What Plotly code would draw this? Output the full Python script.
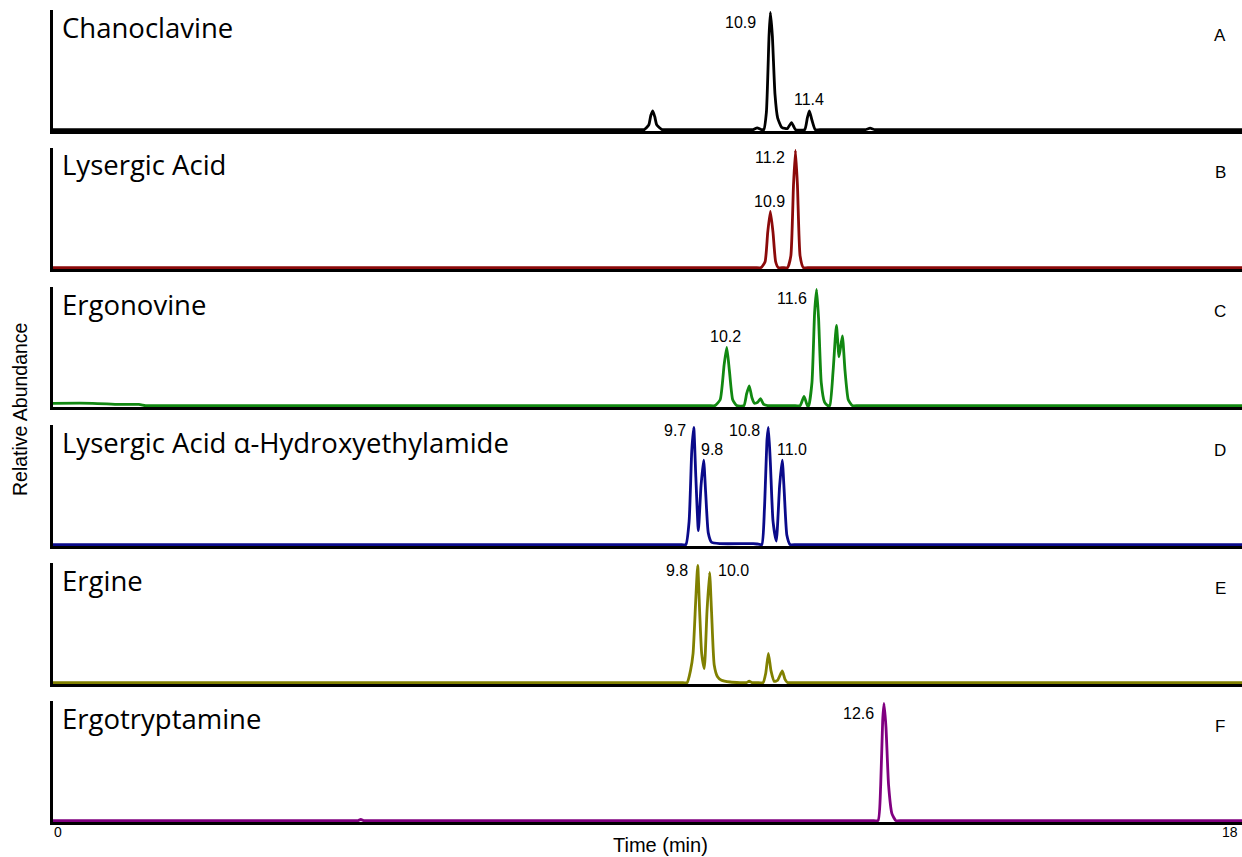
import plotly.graph_objects as go

W, H = 1242, 857

# Retention time window (min)
T_START, T_END = 0, 18

# Chromatogram vertices: retention time (min) and relative abundance
chano_t = [0, 8.85, 8.95, 9.02, 9.05, 9.08, 9.11, 9.14, 9.22, 9.32,
           10.5, 10.6, 10.66, 10.72, 10.76, 10.80, 10.84, 10.86, 10.89, 10.93,
           10.97, 11.03, 11.08, 11.12, 11.18, 11.24, 11.38, 11.42, 11.45, 11.49,
           11.54, 11.64, 12.2, 12.3, 12.37, 12.44, 12.54, 18]
chano_i = [0, 0, 0, 0.04, 0.12, 0.16, 0.11, 0.04, 0, 0,
           0, 0, 0.015, 0, 0, 0.15, 0.8, 1.0, 0.8, 0.3,
           0.1, 0.02, 0.01, 0.01, 0.06, 0, 0, 0.1, 0.16, 0.08,
           0, 0, 0, 0, 0.012, 0, 0, 0]

lys_t = [0, 10.62, 10.72, 10.78, 10.82, 10.86, 10.90, 10.94, 10.98, 11.05,
         11.12, 11.17, 11.21, 11.24, 11.27, 11.31, 11.36, 11.46, 18]
lys_i = [0, 0, 0, 0.05, 0.3, 0.48, 0.3, 0.05, 0, 0,
         0, 0.1, 0.7, 1.0, 0.7, 0.1, 0, 0, 0]

ergon_t = [0, 0.6, 1.0, 1.3, 1.4, 1.5, 9.92, 10.02, 10.10, 10.16,
           10.20, 10.24, 10.29, 10.35, 10.46, 10.50, 10.54, 10.58, 10.62, 10.67,
           10.71, 10.76, 10.82, 10.92, 11.21, 11.31, 11.37, 11.42, 11.44, 11.49,
           11.53, 11.56, 11.59, 11.63, 11.68, 11.73, 11.76, 11.81, 11.86, 11.90,
           11.95, 11.99, 12.04, 12.10, 12.2, 18]
ergon_i = [0.02, 0.02, 0.01, 0.01, 0, 0, 0, 0, 0.05, 0.35,
           0.5, 0.3, 0.05, 0, 0, 0.1, 0.17, 0.07, 0.02, 0.03,
           0.06, 0.01, 0, 0, 0, 0, 0.08, 0, 0, 0.2,
           0.8, 1.0, 0.75, 0.2, 0.03, 0, 0, 0.3, 0.69, 0.42,
           0.6, 0.3, 0.05, 0, 0, 0]

lah_t = [0, 9.48, 9.58, 9.63, 9.67, 9.70, 9.73, 9.77, 9.81, 9.85,
         9.88, 9.92, 9.97, 10.1, 10.6, 10.66, 10.73, 10.77, 10.81, 10.83,
         10.86, 10.90, 10.95, 11.00, 11.04, 11.07, 11.11, 11.16, 11.26, 18]
lah_i = [0, 0, 0, 0.2, 0.8, 1.0, 0.6, 0.12, 0.5, 0.72,
         0.45, 0.1, 0.02, 0.008, 0.008, 0.005, 0, 0.3, 0.9, 1.0,
         0.7, 0.2, 0.03, 0.5, 0.72, 0.45, 0.08, 0, 0, 0]

ergine_t = [0, 9.5, 9.60, 9.65, 9.69, 9.73, 9.76, 9.79, 9.82, 9.86,
            9.90, 9.94, 9.97, 10.01, 10.06, 10.12, 10.25, 10.4, 10.5, 10.54,
            10.58, 10.66, 10.75, 10.79, 10.83, 10.87, 10.92, 10.97, 11.04, 11.08,
            11.12, 11.22, 18]
ergine_i = [0, 0, 0, 0.1, 0.25, 0.7, 1.0, 0.6, 0.25, 0.12,
            0.6, 0.94, 0.6, 0.15, 0.05, 0.02, 0.005, 0, 0, 0.012,
            0, 0, 0, 0.08, 0.25, 0.1, 0.01, 0.02, 0.1, 0.03,
            0, 0, 0]

ergot_t = [0, 4.55, 4.62, 4.66, 4.70, 4.77, 12.39, 12.49, 12.53, 12.56,
           12.58, 12.61, 12.65, 12.70, 12.76, 12.86, 18]
ergot_i = [0, 0, 0, 0.01, 0, 0, 0, 0, 0.3, 0.85,
           1.0, 0.8, 0.3, 0.06, 0, 0, 0]

names = ["Chanoclavine", "Lysergic Acid", "Ergonovine",
         "Lysergic Acid \u03b1-Hydroxyethylamide", "Ergine", "Ergotryptamine"]
letters = ["A", "B", "C", "D", "E", "F"]
series_t = [chano_t, lys_t, ergon_t, lah_t, ergine_t, ergot_t]
series_i = [chano_i, lys_i, ergon_i, lah_i, ergine_i, ergot_i]

# Labelled retention times per panel
peak_labels = [
    ["10.9", "11.4"],
    ["11.2", "10.9"],
    ["10.2", "11.6"],
    ["9.7", "9.8", "10.8", "11.0"],
    ["9.8", "10.0"],
    ["12.6"],
]

# Styling / layout
colors = ["#000000", "#8b0a0a", "#118811", "#0a0a8a", "#808000", "#800080"]
panel_px = [(10, 131), (148, 269), (287, 407), (425, 546), (563, 684), (701, 822)]
label_pos = [
    [(10.41, 0.915), (11.44, 0.26)],
    [(10.86, 0.94), (10.85, 0.56)],
    [(10.18, 0.59), (11.19, 0.92)],
    [(9.42, 0.975), (9.98, 0.81), (10.47, 0.975), (11.19, 0.81)],
    [(9.45, 0.96), (10.30, 0.96)],
    [(12.19, 0.915)],
]
X_LEFT_PX = 53
FONT = "Arial, Liberation Sans"

fig = go.Figure()
layout = dict(
    width=W, height=H, margin=dict(l=0, r=0, t=0, b=0),
    paper_bgcolor="white", plot_bgcolor="white", showlegend=False,
)
annotations = []

for k in range(6):
    sfx = "" if k == 0 else str(k + 1)
    top_px, bot_px = panel_px[k]
    fig.add_trace(go.Scatter(
        x=series_t[k], y=series_i[k], mode="lines",
        line=dict(color=colors[k], width=2.8, shape="spline", smoothing=0.5),
        xaxis="x" + sfx, yaxis="y" + sfx, hoverinfo="skip",
    ))
    layout["xaxis" + sfx] = dict(
        domain=[X_LEFT_PX / W, 1], range=[T_START, T_END],
        showline=True, linecolor="black", linewidth=2.6, layer="below traces",
        showgrid=False, zeroline=False, showticklabels=False, ticks="",
        anchor="y" + sfx,
    )
    layout["yaxis" + sfx] = dict(
        domain=[1 - bot_px / H, 1 - top_px / H], range=[-0.012, 1.02],
        showline=True, linecolor="black", linewidth=2.6, layer="below traces",
        showgrid=False, zeroline=False, showticklabels=False, ticks="",
        anchor="x" + sfx,
    )
    annotations.append(dict(
        text=names[k], xref="paper", yref="paper", x=60 / W, y=1 - (top_px + 17) / H,
        xanchor="left", yanchor="middle", showarrow=False,
        font=dict(family="Open Sans", size=27.5, color="black"),
    ))
    annotations.append(dict(
        text=letters[k], xref="paper", yref="paper", x=1220 / W, y=1 - (top_px + 25) / H,
        xanchor="center", yanchor="middle", showarrow=False,
        font=dict(family=FONT, size=17, color="black"),
    ))
    for txt, (lx, ly) in zip(peak_labels[k], label_pos[k]):
        annotations.append(dict(
            text=txt, xref="x" + sfx, yref="y" + sfx, x=lx, y=ly,
            xanchor="center", yanchor="middle", showarrow=False,
            font=dict(family=FONT, size=16, color="black"),
        ))

annotations += [
    dict(text="Relative Abundance", xref="paper", yref="paper", x=20 / W, y=1 - 410 / H,
         textangle=-90, showarrow=False, xanchor="center", yanchor="middle",
         font=dict(family=FONT, size=19.5, color="black")),
    dict(text="Time (min)", xref="paper", yref="paper", x=660 / W, y=1 - 845 / H,
         showarrow=False, xanchor="center", yanchor="middle",
         font=dict(family=FONT, size=20, color="black")),
    dict(text=str(T_START), xref="paper", yref="paper", x=52 / W, y=1 - 832 / H,
         showarrow=False, xanchor="left", yanchor="middle",
         font=dict(family=FONT, size=14, color="black")),
    dict(text=str(T_END), xref="paper", yref="paper", x=1240 / W, y=1 - 832 / H,
         showarrow=False, xanchor="right", yanchor="middle",
         font=dict(family=FONT, size=14, color="black")),
]
layout["annotations"] = annotations
fig.update_layout(**layout)
fig.write_html("out.html")
